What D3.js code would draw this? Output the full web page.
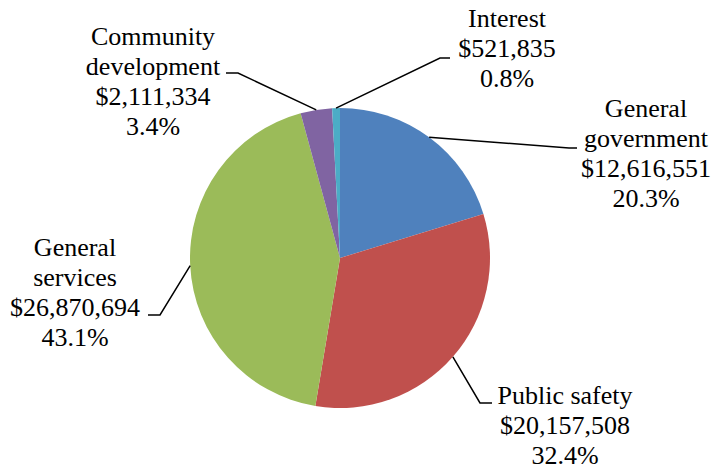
<!doctype html>
<html lang="en">
  <head>
    <meta charset="UTF-8"/>
    <title>Expenses pie</title>
    <script src="https://cdnjs.cloudflare.com/ajax/libs/d3/7.8.5/d3.min.js"></script>
    <style>
      body { margin: 0; background: #fff; }
    </style>
  </head>
  <body>
    <div id="chart"></div>
    <script>
      // data
      var categories = ["General government", "Public safety", "General services", "Community development", "Interest"];
      var amounts = [12616551, 20157508, 26870694, 2111334, 521835];
      var percents = ["20.3%", "32.4%", "43.1%", "3.4%", "0.8%"];
      var labelLines = [
        ["General", "government"],
        ["Public safety"],
        ["General", "services"],
        ["Community", "development"],
        ["Interest"]
      ];
      var colors = ["#4F81BD", "#C0504D", "#9BBB59", "#8064A2", "#4BACC6"];

      var width = 714, height = 470;
      var cx = 340, cy = 258, r = 150;

      // label block (center x, first baseline) and leader bend / end
      var labelPos = [
        {x: 646, y: 117, elbow: [569, 148], end: [577, 148]},
        {x: 565, y: 404, elbow: [480, 403], end: [492, 403]},
        {x: 75, y: 256, elbow: [160, 315], end: [148, 315]},
        {x: 153, y: 45, elbow: [238, 73], end: [226, 73]},
        {x: 507, y: 27, elbow: [440, 58], end: [450, 58]}
      ];

      var svg = d3.select("#chart").append("svg")
          .attr("width", width)
          .attr("height", height);

      var g = svg.append("g").attr("transform", "translate(" + cx + "," + cy + ")");

      var pie = d3.pie().sort(null).value(function(d) { return d; });
      var arcs = pie(amounts);
      var arc = d3.arc().innerRadius(0).outerRadius(r);

      g.selectAll("path.slice")
        .data(arcs)
        .enter().append("path")
        .attr("class", "slice")
        .attr("d", arc)
        .attr("fill", function(d, i) { return colors[i]; });

      // leader lines
      svg.selectAll("polyline.leader")
        .data(arcs)
        .enter().append("polyline")
        .attr("class", "leader")
        .attr("fill", "none")
        .attr("stroke", "#000")
        .attr("stroke-width", 1.5)
        .attr("points", function(d, i) {
          var a = (d.startAngle + d.endAngle) / 2;
          var sx = cx + r * Math.sin(a), sy = cy - r * Math.cos(a);
          var p = labelPos[i];
          return [[sx, sy], p.elbow, p.end].map(function(q) { return q.join(","); }).join(" ");
        });

      var fmt = d3.format(",");

      var labels = svg.selectAll("text.lbl")
        .data(categories)
        .enter().append("text")
        .attr("class", "lbl")
        .attr("text-anchor", "middle")
        .attr("fill", "#000")
        .style("font-family", function() { return "'Liberation Serif'"; })
        .style("font-size", "26px")
        .attr("x", function(d, i) { return labelPos[i].x; })
        .attr("y", function(d, i) { return labelPos[i].y; });

      labels.each(function(d, i) {
        var lines = labelLines[i].concat(["$" + fmt(amounts[i]), percents[i]]);
        d3.select(this).selectAll("tspan")
          .data(lines)
          .enter().append("tspan")
          .attr("x", labelPos[i].x)
          .attr("dy", function(t, j) { return j === 0 ? 0 : 30; })
          .text(function(t) { return t; });
      });
    </script>
  </body>
</html>
